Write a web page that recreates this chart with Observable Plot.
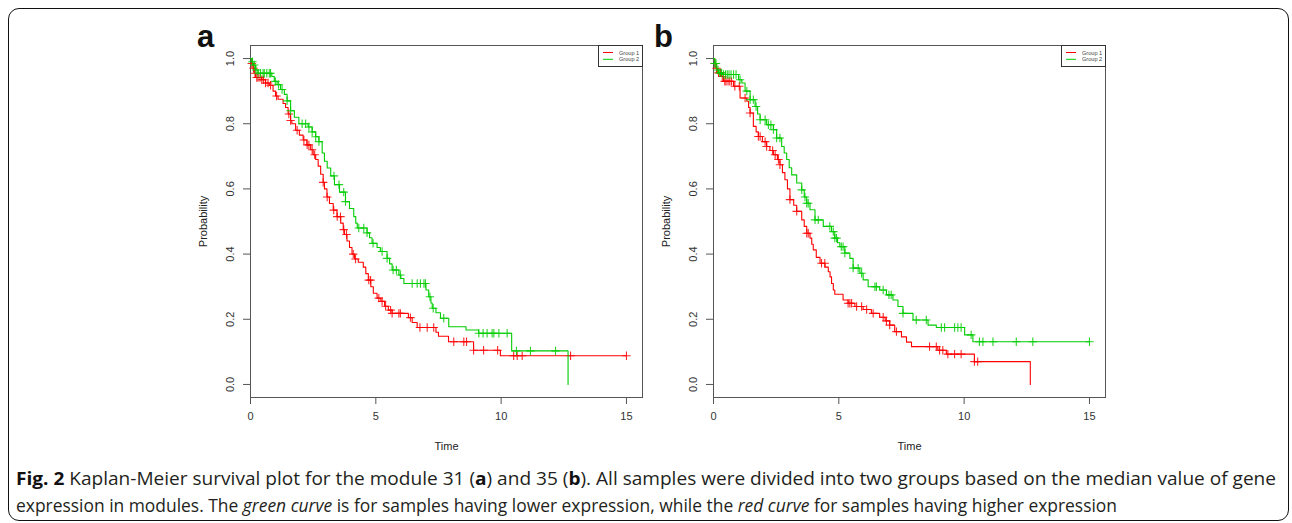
<!DOCTYPE html>
<html>
<head>
<meta charset="utf-8">
<script src="https://cdn.jsdelivr.net/npm/d3@7"></script>
<script src="https://cdn.jsdelivr.net/npm/@observablehq/plot@0.6"></script>
<style>
  html, body { margin: 0; padding: 0; background: #fff; }
  #root { position: relative; width: 1292px; height: 523px; overflow: hidden; background: #fff; }
  #box { position: absolute; left: 8px; top: 8px; width: 1279px; height: 511px; border: 1.6px solid #111; border-radius: 11px; }
  .panel { position: absolute; top: 20px; }
  .tag { position: absolute; top: 21px; font: bold 31px "Liberation Sans", Arial, sans-serif; line-height: 31px; color: #111; }
  .cap { position: absolute; left: 16px; font-family: "Open Sans", sans-serif; font-size: 18px; line-height: 18px; color: #231f20; white-space: nowrap; transform-origin: 0 0; }
  .cap b { font-weight: 700; color: #111; }
</style>
</head>
<body>
<div id="root">
  <div id="box"></div>
  <div class="tag" style="left:197px">a</div>
  <div class="tag" style="left:654px">b</div>
  <div id="pa" class="panel" style="left:190px"></div>
  <div id="pb" class="panel" style="left:653px"></div>
  <div id="cap1" class="cap" style="top:469px"><b>Fig. 2</b> Kaplan-Meier survival plot for the module 31 (<b>a</b>) and 35 (<b>b</b>). All samples were divided into two groups based on the median value of gene</div>
  <div id="cap2" class="cap" style="top:496px">expression in modules. The <i>green curve</i> is for samples having lower expression, while the <i>red curve</i> for samples having higher expression</div>
</div>
<script>
// ---------- data ----------
const xTicks = [0, 5, 10, 15];
const yTicks = [0, 0.2, 0.4, 0.6, 0.8, 1.0];
const groupNames = ["Group 1", "Group 2"];
const groupColors = ["#ff0000", "#00cd00"];

// Panel a (module 31), Group 1 (red)
const aRedTime = [0,0.05,0.1,0.15,0.2,0.45,0.6,0.75,0.9,1.0,1.1,1.3,1.4,1.5,1.6,1.65,1.8,1.95,2.1,2.25,2.4,2.5,2.6,2.7,2.8,2.9,2.95,3.05,3.15,3.3,3.45,3.6,3.7,3.75,3.85,3.95,4.05,4.15,4.3,4.5,4.6,4.7,4.8,4.9,5.05,5.2,5.35,5.5,5.65,6.3,6.45,6.65,7.4,7.5,7.9,8.9,9.97];
const aRedSurv = [1,0.985,0.97,0.955,0.942,0.935,0.925,0.918,0.9,0.885,0.875,0.862,0.85,0.83,0.81,0.8,0.78,0.765,0.75,0.735,0.72,0.705,0.69,0.67,0.645,0.62,0.6,0.575,0.555,0.535,0.515,0.495,0.475,0.46,0.44,0.42,0.4,0.385,0.375,0.36,0.34,0.32,0.3,0.28,0.265,0.255,0.24,0.228,0.218,0.205,0.19,0.175,0.16,0.148,0.131,0.105,0.088];
const aRedEnd = 15.0;
const aRedCensor = [0.05,0.12,0.18,0.25,0.3,0.38,0.45,0.52,0.6,0.7,0.8,1.04,1.53,1.6,1.86,2.13,2.26,2.33,2.46,2.56,2.9,3.06,3.32,3.46,3.59,3.72,3.83,4.1,4.19,4.72,4.79,5.12,5.25,5.39,5.59,5.65,5.92,5.98,6.38,6.76,7.05,7.31,8.11,8.51,8.62,8.9,9.3,9.86,10.5,10.64,10.84,12.77,15.0];

// Panel a, Group 2 (green)
const aGreenTime = [0,0.05,0.1,0.2,0.3,0.85,0.95,1.06,1.2,1.35,1.46,1.6,1.75,1.93,2.3,2.46,2.6,2.73,2.86,2.95,3.06,3.2,3.35,3.55,3.79,3.95,4.12,4.2,4.26,4.65,4.75,4.85,5.05,5.18,5.45,5.55,5.65,5.92,6.0,6.12,7.0,7.11,7.2,7.25,7.4,7.58,7.91,8.6,9.1,10.42,12.67];
const aGreenSurv = [1,0.99,0.98,0.965,0.955,0.945,0.93,0.92,0.905,0.89,0.87,0.84,0.82,0.8,0.79,0.775,0.76,0.745,0.71,0.685,0.664,0.64,0.613,0.59,0.561,0.54,0.515,0.495,0.48,0.465,0.45,0.433,0.42,0.408,0.387,0.37,0.351,0.336,0.325,0.31,0.29,0.269,0.25,0.234,0.22,0.203,0.177,0.167,0.157,0.103,0];
const aGreenEnd = null;
const aGreenCensor = [0.08,0.15,0.22,0.3,0.4,0.5,0.55,0.65,0.75,0.8,0.99,1.12,1.26,1.46,1.6,2.06,2.2,2.33,2.46,2.6,2.73,3.33,3.53,3.72,3.79,4.32,4.52,4.65,4.89,5.25,5.45,5.69,5.82,5.98,6.45,6.65,6.78,6.92,6.98,7.16,7.29,7.71,9.11,9.28,9.44,9.64,9.71,9.91,10.24,10.61,11.17,12.17];

// Panel b (module 35), Group 1 (red)
const bRedTime = [0,0.05,0.1,0.15,0.3,0.4,0.8,1.06,1.33,1.4,1.46,1.59,1.7,1.79,1.95,2.12,2.25,2.39,2.55,2.65,2.75,2.85,2.95,3.05,3.2,3.32,3.52,3.62,3.72,3.85,3.92,3.98,4.1,4.25,4.45,4.58,4.65,4.71,4.78,4.84,5.17,5.37,5.64,5.97,6.3,6.63,6.85,7.03,7.23,7.5,7.7,7.9,8.95,9.29,10.41,12.64];
const bRedSurv = [1,0.985,0.97,0.956,0.945,0.93,0.915,0.879,0.869,0.85,0.833,0.792,0.775,0.761,0.745,0.73,0.718,0.705,0.69,0.674,0.65,0.628,0.6,0.567,0.55,0.531,0.505,0.485,0.464,0.449,0.43,0.413,0.39,0.372,0.36,0.346,0.33,0.31,0.29,0.277,0.259,0.249,0.239,0.23,0.218,0.206,0.195,0.182,0.162,0.146,0.13,0.116,0.105,0.093,0.07,0];
const bRedEnd = null;
const bRedCensor = [0.05,0.12,0.2,0.28,0.35,0.45,0.5,0.58,0.65,0.72,0.85,1.03,1.26,1.46,1.79,1.86,2.06,2.12,2.36,2.46,2.59,2.65,3.05,3.32,3.72,3.78,4.31,4.44,5.37,5.44,5.51,5.71,5.91,6.11,6.37,6.77,6.9,7.03,7.3,8.62,8.89,9.02,9.15,9.35,9.62,9.88,10.41,10.54];

// Panel b, Group 2 (green)
const bGreenTime = [0,0.05,0.13,0.2,0.35,1.0,1.13,1.26,1.46,1.66,1.76,1.86,2.12,2.39,2.52,2.72,2.82,2.92,3.02,3.12,3.32,3.52,3.62,3.72,3.85,4.05,4.38,4.71,4.84,4.95,5.04,5.24,5.44,5.57,5.84,5.97,6.17,6.63,6.9,7.16,7.36,7.56,7.96,8.56,8.89,10.02,10.35];
const bGreenSurv = [1,0.985,0.965,0.956,0.951,0.935,0.925,0.9,0.874,0.853,0.83,0.812,0.797,0.782,0.756,0.73,0.71,0.69,0.665,0.643,0.618,0.597,0.575,0.556,0.536,0.505,0.485,0.469,0.449,0.435,0.423,0.403,0.387,0.357,0.341,0.321,0.3,0.29,0.275,0.259,0.239,0.218,0.198,0.182,0.175,0.152,0.131];
const bGreenEnd = 15.0;
const bGreenCensor = [0.05,0.1,0.18,0.25,0.32,0.4,0.48,0.55,0.62,0.7,0.8,0.9,1.06,1.33,1.46,1.59,1.7,1.86,2.06,2.19,2.29,2.39,2.52,2.65,3.52,3.65,3.72,3.78,4.05,4.18,4.64,4.78,4.84,4.91,5.1,5.17,5.24,5.57,5.77,5.91,6.44,6.5,6.77,7.0,7.09,7.56,8.09,8.49,9.09,9.22,9.62,9.75,9.88,10.28,10.61,10.75,11.15,12.08,12.74,15.0];

// ---------- helpers ----------
function stepPoints(times, surv, end) {
  const pts = times.map((t, i) => ({t, s: surv[i]}));
  if (end != null) pts.push({t: end, s: surv[surv.length - 1]});
  return pts;
}
function censorPoints(times, surv, censor) {
  return censor.map(t => {
    const i = Math.max(0, d3.bisectRight(times, t) - 1);
    return {t, s: surv[i]};
  });
}
const plusSymbol = {
  draw(ctx, size) {
    const r = Math.sqrt(size / Math.PI);
    ctx.moveTo(-r, 0); ctx.lineTo(r, 0);
    ctx.moveTo(0, -r); ctx.lineTo(0, r);
  }
};

function panel(groups) {
  const marks = [
    Plot.frame({stroke: "#555", strokeWidth: 1}),
    Plot.axisX({ticks: xTicks, tickSize: 7, tickPadding: 8, label: null, stroke: "#555", tickFormat: d => String(d)}),
    Plot.axisY({ticks: yTicks, tickSize: 7, label: null, stroke: "#555", tickFormat: () => ""}),
    Plot.text(yTicks, {y: d => d, text: d => d.toFixed(1), frameAnchor: "left", dx: -20, rotate: -90, textAnchor: "middle", lineAnchor: "middle", fill: "#333"}),
    Plot.text(["Probability"], {text: d => d, frameAnchor: "left", dx: -47, rotate: -90, textAnchor: "middle", lineAnchor: "middle", fill: "#222"}),
    Plot.text(["Time"], {text: d => d, frameAnchor: "bottom", dy: 49, textAnchor: "middle", lineAnchor: "middle", fill: "#222"})
  ];
  groups.forEach((g, k) => {
    marks.push(Plot.line(stepPoints(g.time, g.surv, g.end), {x: "t", y: "s", curve: "step-after", stroke: groupColors[k], strokeWidth: 1.1}));
    marks.push(Plot.dot(censorPoints(g.time, g.surv, g.censor), {x: "t", y: "s", symbol: plusSymbol, r: 4.2, stroke: groupColors[k], strokeWidth: 1.1, fill: "none", strokeOpacity: 0.85}));
  });
  return Plot.plot({
    width: 460, height: 440,
    marginLeft: 60, marginRight: 8, marginTop: 25, marginBottom: 63,
    x: {domain: [0, 15.64]},
    y: {domain: [-0.04, 1.04]},
    style: {fontFamily: "'Liberation Sans', Arial, sans-serif", fontSize: "11px", color: "#333", background: "transparent", overflow: "visible"},
    marks
  });
}

function legend(left) {
  const svg = d3.create("svg").attr("width", 45).attr("height", 22)
    .style("position", "absolute").style("left", left + "px").style("top", "45px");
  svg.append("rect").attr("x", 0.5).attr("y", 0.5).attr("width", 44).attr("height", 21).attr("fill", "#fff").attr("stroke", "#333").attr("stroke-width", 1);
  groupNames.forEach((name, k) => {
    const y = 7.5 + k * 6.8;
    svg.append("line").attr("x1", 5).attr("x2", 15).attr("y1", y).attr("y2", y).attr("stroke", groupColors[k]).attr("stroke-width", 1);
    svg.append("text").attr("x", 21).attr("y", y + 2).attr("font-size", 5.6).attr("font-family", "'Liberation Sans', Arial, sans-serif").attr("fill", "#444").text(name);
  });
  return svg.node();
}

document.getElementById("pa").appendChild(panel([
  {time: aRedTime, surv: aRedSurv, end: aRedEnd, censor: aRedCensor},
  {time: aGreenTime, surv: aGreenSurv, end: aGreenEnd, censor: aGreenCensor}
]));
document.getElementById("pb").appendChild(panel([
  {time: bRedTime, surv: bRedSurv, end: bRedEnd, censor: bRedCensor},
  {time: bGreenTime, surv: bGreenSurv, end: bGreenEnd, censor: bGreenCensor}
]));
const root = document.getElementById("root");
root.appendChild(legend(598));
root.appendChild(legend(1061));

// fit caption lines to the reference widths (condensed look)
[["cap1", 1260], ["cap2", 1101]].forEach(([id, w]) => {
  const el = document.getElementById(id);
  const cw = el.getBoundingClientRect().width;
  el.style.transform = `scaleX(${w / cw})`;
});
</script>
</body>
</html>
